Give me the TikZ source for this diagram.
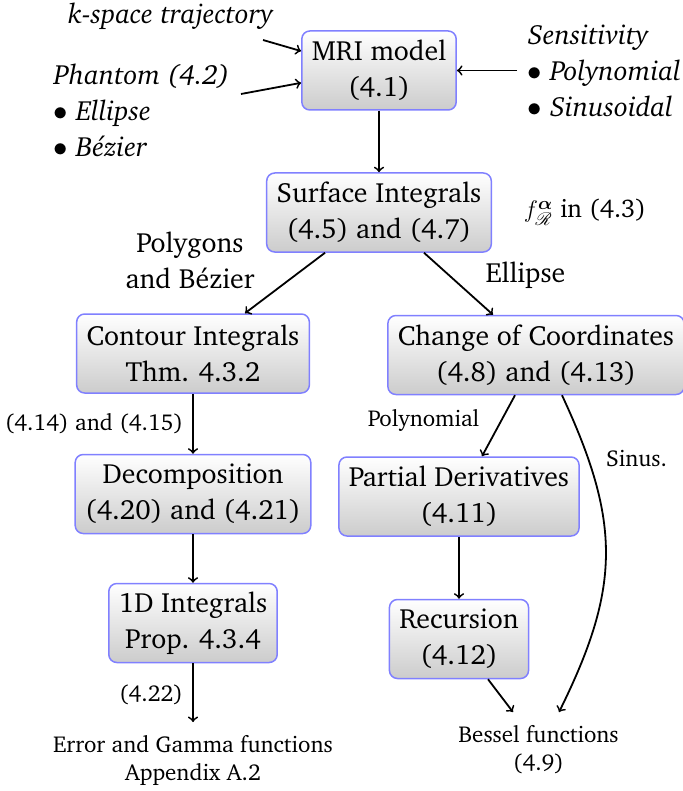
\documentclass[tikz,border=0pt]{standalone}
\usepackage[T1]{fontenc}
\usepackage{charter}
\usepackage{amsmath,mathrsfs}

\newcommand{\bigfont}{\fontsize{13.9pt}{18pt}\selectfont}
\newcommand{\midfont}{\fontsize{12.8pt}{16pt}\selectfont}
\newcommand{\smallfont}{\fontsize{11.5pt}{14pt}\selectfont}

\begin{document}
\begin{tikzpicture}[x=0.5pt, y=-0.5pt, >=to, line width=0.9pt,
    block/.style={draw=blue!50, line width=0.75pt, rounded corners=4pt, top color=white, bottom color=black!20,
        align=center, inner xsep=5pt, inner ysep=2pt, minimum height=39.5pt, font=\bigfont},
    note/.style={align=left, inner sep=0pt, font=\bigfont\itshape},
    lbl/.style={align=center, inner sep=0pt, font=\bigfont},
    tag/.style={align=center, inner sep=0pt, font=\smallfont},
    sink/.style={align=center, inner xsep=0pt, inner ysep=6pt, font=\smallfont}]

    \useasboundingbox (0,0) rectangle (682,791);

    % main blocks
    \node[block] (mri) at (379,70.5) {MRI model\\(4.1)};
    \node[block] (surf) at (379,212.5) {Surface Integrals\\(4.5) and (4.7)};
    \node[block] (cont) at (193,353.5) {Contour Integrals\\Thm. 4.3.2};
    \node[block] (coord) at (536,355) {Change of Coordinates\\(4.8) and (4.13)};
    \node[block] (decomp) at (193,494) {Decomposition\\(4.20) and (4.21)};
    \node[block] (partial) at (459,496.5) {Partial Derivatives\\(4.11)};
    \node[block] (oned) at (193,623) {1D Integrals\\Prop. 4.3.4};
    \node[block] (recur) at (459,639) {Recursion\\(4.12)};

    % inputs
    \node[note, anchor=base] (kspace) at (170.5,24) {k-space trajectory};
    \node[note, anchor=base west] (phantom) at (53,157) {Phantom (4.2)\\$\bullet$ Ellipse\\$\bullet$ B\'ezier};
    \node[note, anchor=base west] (sens) at (527,117) {Sensitivity\\$\bullet$ Polynomial\\$\bullet$ Sinusoidal};
    \coordinate (kin) at (263,40);
    \coordinate (pin) at (241,94);
    \coordinate (sin) at (517,70.5);

    % outputs
    \node[sink, anchor=base] (error) at (193,780) {Error and Gamma functions\\Appendix A.2};
    \node[sink, anchor=base] (bessel) at (538.5,770) {Bessel functions\\(4.9)};

    % labels
    \node[lbl, anchor=base] (poly) at (190,288) {Polygons\\and B\'ezier};
    \node[lbl, anchor=base] (ell) at (525.5,282) {Ellipse};
    \node[lbl, font=\midfont, anchor=base west] (fr) at (523,218) {$f^{\boldsymbol{\alpha}}_{\mathscr{R}}$ in (4.3)};
    \node[tag, anchor=base] (eqcont) at (94,430) {(4.14) and (4.15)};
    \node[tag, anchor=base] (eqone) at (151,701) {(4.22)};
    \node[tag, anchor=base] (polyn) at (423.5,426) {Polynomial};
    \node[tag, anchor=base] (sinus) at (636.5,466) {Sinus.};

    % connectors
    \draw[->] (kin) -- (mri.166);
    \draw[->] (pin) -- (mri.189);
    \draw[->] (sin) -- (mri.east);
    \draw[->] (mri) -- (surf);
    \draw[->] ([xshift=-27pt]surf.south) -- ([xshift=26pt]cont.north);
    \draw[->] ([xshift=22.5pt]surf.south) -- ([xshift=-21.5pt]coord.north);
    \draw[->] (cont) -- (decomp);
    \draw[->] (decomp) -- (oned);
    \draw[->] (oned) -- (error);
    \draw[->] ([xshift=-10.5pt]coord.south) -- ([xshift=11.5pt]partial.north);
    \draw[->] (partial) -- (recur);
    \draw[->] ([xshift=14.5pt]recur.south) -- ([xshift=-12.75pt]bessel.north);
    \draw[->] ([xshift=13pt]coord.south) .. controls (621,522) and (621,587) .. ([xshift=10.25pt]bessel.north);

\end{tikzpicture}
\end{document}
